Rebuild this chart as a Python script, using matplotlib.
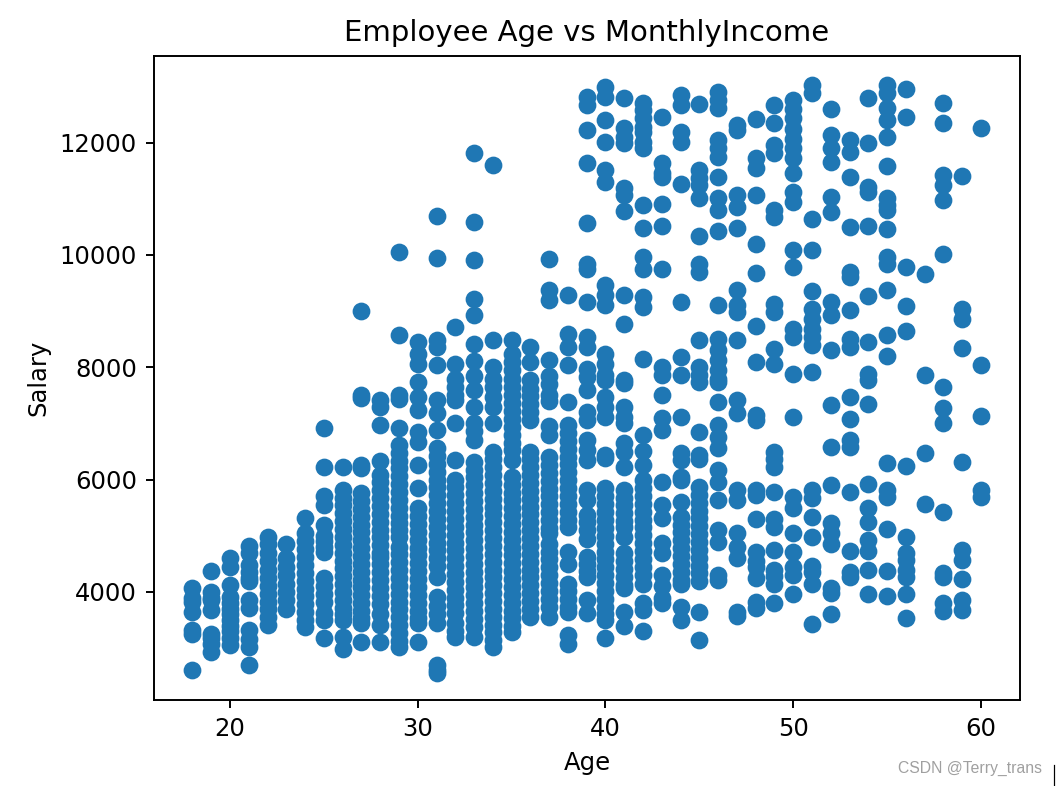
import matplotlib
matplotlib.use("Agg")
import matplotlib.pyplot as plt
from matplotlib.lines import Line2D

age_18 = [4063, 3900, 3825, 3650, 3320, 3260, 2608]
age_19 = [4377, 4003, 3900, 3855, 3675, 3250, 3180, 3080, 2935]
age_20 = [4597, 4450, 4122, 3915, 3800, 3700, 3600, 3500, 3400, 3300, 3180, 3053]
age_21 = [4823, 4686, 4480, 4350, 4250, 4200, 3855, 3706, 3320, 3170, 3025, 2708]
age_22 = [4983, 4850, 4700, 4550, 4400, 4250, 4100, 3960, 3830, 3700, 3558, 3410]
age_23 = [4853, 4600, 4450, 4300, 4150, 4000, 3850, 3700]
age_24 = [5310, 5043, 4900, 4760, 4620, 4480, 4340, 4200, 4060, 3920, 3780, 3650, 3510, 3380]
age_25 = [6926, 6219, 5708, 5548, 5190, 5000, 4900, 4800, 4715, 4240, 4100, 3970, 3825, 3617, 3500, 3172]
age_26 = [6230, 5815, 5680, 5540, 5400, 5260, 5120, 4980, 4840, 4700, 4560, 4420, 4280, 4140, 4000, 3860, 3720, 3600, 3500, 3200, 2990]
age_27 = [9000, 7500, 7450, 6260, 6200, 5755, 5620, 5480, 5340, 5200, 5060, 4920, 4780, 4640, 4500, 4360, 4220, 4080, 3940, 3800, 3660, 3540, 3440, 3112]
age_28 = [7420, 7300, 6970, 6340, 6080, 5950, 5810, 5670, 5530, 5390, 5250, 5110, 4970, 4830, 4686, 4630, 4490, 4350, 4210, 4070, 3930, 3790, 3600, 3410, 3112]
age_29 = [10056, 8571, 7508, 7440, 6914, 6617, 6480, 6340, 6200, 6060, 5920, 5780, 5640, 5500, 5360, 5220, 5100, 4983, 4805, 4670, 4530, 4390, 4250, 4110, 3970, 3830, 3690, 3550, 3410, 3270, 3130, 3023]
age_30 = [8452, 8244, 8066, 7740, 7478, 7240, 6854, 6676, 6260, 5845, 5490, 5350, 5210, 5070, 4930, 4790, 4650, 4510, 4370, 4230, 4090, 3950, 3810, 3670, 3530, 3440, 3112]
age_31 = [10697, 9937, 8482, 8363, 8036, 7418, 7181, 6884, 6560, 6420, 6280, 6140, 6000, 5860, 5720, 5580, 5440, 5300, 5160, 5020, 4880, 4740, 4600, 4460, 4270, 3914, 3750, 3600, 3440, 2700, 2610, 2550]
age_32 = [8720, 8066, 7800, 7656, 7500, 7418, 7003, 6350, 6000, 5860, 5720, 5580, 5440, 5300, 5160, 5020, 4880, 4740, 4600, 4460, 4320, 4180, 4040, 3900, 3760, 3617, 3440, 3300, 3200]
age_33 = [11820, 10590, 9907, 9224, 8939, 8422, 8108, 7850, 7600, 7300, 7003, 6870, 6700, 6320, 6180, 6040, 5900, 5760, 5620, 5480, 5340, 5200, 5060, 4920, 4780, 4640, 4500, 4360, 4220, 4080, 3940, 3800, 3660, 3520, 3380, 3200]
age_34 = [11600, 8482, 8000, 7800, 7650, 7478, 7300, 7003, 6498, 6360, 6220, 6080, 5940, 5800, 5660, 5520, 5380, 5240, 5100, 4960, 4820, 4680, 4540, 4400, 4260, 4120, 3980, 3840, 3700, 3560, 3420, 3280, 3140, 3023]
age_35 = [8482, 8244, 8100, 7950, 7800, 7650, 7500, 7360, 7220, 7080, 6940, 6800, 6660, 6520, 6350, 6050, 5910, 5770, 5630, 5490, 5350, 5210, 5070, 4930, 4790, 4650, 4510, 4370, 4230, 4090, 3950, 3810, 3670, 3530, 3390, 3280]
age_36 = [8363, 8096, 7770, 7620, 7480, 7340, 7200, 7060, 6500, 6360, 6220, 6080, 5940, 5800, 5660, 5520, 5380, 5240, 5100, 4960, 4820, 4680, 4540, 4400, 4260, 4120, 3980, 3840, 3700, 3560]
age_37 = [9919, 9373, 9195, 8125, 7850, 7700, 7500, 7400, 6950, 6800, 6400, 6260, 6120, 5980, 5840, 5700, 5560, 5420, 5280, 5140, 5050, 4860, 4720, 4580, 4440, 4300, 4160, 4020, 3880, 3740, 3550]
age_38 = [9284, 8600, 8363, 8036, 7390, 6970, 6830, 6690, 6550, 6410, 6270, 6130, 5990, 5850, 5710, 5570, 5430, 5290, 5150, 4720, 4500, 4150, 4010, 3870, 3730, 3640, 3230, 3080]
age_39 = [12817, 12668, 12223, 11630, 10560, 9847, 9757, 9165, 8541, 8363, 7975, 7827, 7597, 7211, 7062, 6706, 6528, 6349, 5815, 5637, 5369, 5250, 5100, 4950, 4627, 4500, 4380, 4270, 3855, 3617]
age_40 = [12995, 12817, 12401, 12015, 11510, 11302, 9460, 9282, 9104, 8243, 8065, 7857, 7775, 7478, 7300, 7122, 6430, 6380, 5845, 5700, 5560, 5420, 5280, 5140, 5000, 4860, 4720, 4580, 4440, 4300, 4160, 4020, 3880, 3740, 3600, 3500, 3172]
age_41 = [12799, 12252, 12104, 11985, 11183, 11064, 10785, 9282, 8777, 7768, 7716, 7300, 7122, 7003, 6646, 6498, 6219, 5815, 5680, 5540, 5400, 5260, 5160, 4983, 4686, 4550, 4410, 4270, 4130, 4063, 3647, 3391]
age_42 = [12698, 12579, 12430, 12282, 12193, 12015, 11896, 10886, 10482, 9965, 9757, 9253, 9074, 8154, 6795, 6516, 6260, 5993, 5850, 5710, 5570, 5430, 5290, 5150, 5010, 4870, 4730, 4590, 4450, 4310, 4150, 3795, 3677, 3308]
age_43 = [12460, 11629, 11450, 11391, 10898, 10518, 9758, 8005, 7857, 7508, 7092, 6884, 5963, 5548, 5310, 4864, 4686, 4300, 4100, 3900, 3800]
age_44 = [12846, 12668, 12193, 12015, 11254, 9163, 8183, 7857, 7122, 6468, 6349, 6053, 5993, 5607, 5340, 5200, 5060, 4920, 4780, 4640, 4500, 4360, 4220, 4150, 3736, 3500]
age_45 = [12686, 11510, 11361, 11243, 11005, 10334, 9847, 9698, 8480, 8005, 7857, 7745, 6854, 6430, 6360, 5875, 5730, 5590, 5450, 5310, 5170, 5030, 4890, 4750, 4610, 4470, 4330, 4190, 3647, 3142]
age_46 = [12906, 12757, 12609, 12044, 11896, 11748, 11379, 11005, 10797, 10429, 9104, 8510, 8302, 8124, 7946, 7797, 7745, 7389, 6973, 6765, 6557, 6170, 5965, 5640, 5100, 4890, 4300, 4210]
age_47 = [12312, 12223, 11064, 10856, 10482, 9371, 9104, 8985, 8480, 7419, 7181, 5815, 5637, 5043, 4805, 4597, 3647, 3580]
age_48 = [12413, 11718, 11540, 11064, 10191, 9680, 8736, 8094, 7151, 7062, 5815, 5726, 5292, 4716, 4550, 4449, 4241, 3825, 3706]
age_49 = [12668, 12341, 11955, 11807, 10797, 10678, 9134, 8985, 8332, 8065, 6498, 6360, 6230, 5785, 5292, 5160, 4746, 4390, 4290, 4150, 3795]
age_50 = [12757, 12590, 12430, 12250, 12070, 11900, 11720, 11450, 11120, 10950, 10084, 9787, 8689, 8540, 7880, 7110, 5696, 5488, 5043, 4716, 4449, 4300, 3956]
age_51 = [13025, 12876, 10648, 10096, 9360, 9045, 8866, 8689, 8540, 8392, 7916, 5815, 5666, 5340, 4971, 4460, 4350, 4150, 3421]
age_52 = [12591, 12134, 11896, 11658, 11034, 10767, 9163, 8926, 8314, 7324, 6587, 5898, 5221, 5043, 4853, 4063, 3973, 3605]
age_53 = [12044, 11837, 11379, 10500, 9698, 9609, 9015, 8510, 8362, 7478, 7074, 6706, 6587, 5773, 4734, 4360, 4270]
age_54 = [12799, 11985, 11213, 11124, 10512, 9264, 8451, 7886, 7768, 7347, 5922, 5488, 5250, 4924, 4734, 4390, 3956]
age_55 = [13025, 12876, 12609, 12401, 12104, 11581, 11005, 10886, 10797, 10459, 9965, 9847, 9371, 8570, 8201, 6302, 5815, 5696, 5120, 4371, 3932]
age_56 = [12953, 12448, 9787, 9086, 8641, 6242, 4983, 4686, 4567, 4400, 4270, 3962, 3534]
age_57 = [9656, 7857, 6480, 5560]
age_58 = [12698, 12341, 11421, 11243, 10975, 10025, 7656, 7282, 7003, 5429, 4330, 4270, 3795, 3665]
age_59 = [11403, 9045, 8866, 8350, 6320, 4746, 4567, 4229, 3855, 3676]
age_60 = [12264, 8035, 7139, 5815, 5696]

ages = list(range(18, 61))
incomes = [age_18, age_19, age_20, age_21, age_22, age_23, age_24, age_25, age_26, age_27,
           age_28, age_29, age_30, age_31, age_32, age_33, age_34, age_35, age_36, age_37,
           age_38, age_39, age_40, age_41, age_42, age_43, age_44, age_45, age_46, age_47,
           age_48, age_49, age_50, age_51, age_52, age_53, age_54, age_55, age_56, age_57,
           age_58, age_59, age_60]

x = [a for a, vals in zip(ages, incomes) for _ in vals]
y = [v for vals in incomes for v in vals]

W, H, DPI = 1057, 786, 174.5
fig = plt.figure(figsize=(W / DPI, H / DPI), dpi=DPI)
ax = fig.add_axes([154 / W, 1 - 700 / H, 866 / W, 644 / H])
ax.scatter(x, y, s=40)
ax.set_xlim(15.95, 62.08)
ax.set_ylim(2077, 13541)
ax.set_xticks([20, 30, 40, 50, 60])
ax.set_yticks([4000, 6000, 8000, 10000, 12000])
ax.set_title("Employee Age vs MonthlyIncome")
ax.set_xlabel("Age")
ax.set_ylabel("Salary")

fig.text(898 / W, 1 - 768 / H, "CSDN @Terry_trans", color="#a0a0a0", fontsize=6.5,
         family="Liberation Sans", va="center", ha="left")
fig.add_artist(Line2D([1054 / W, 1054 / W], [1 - 765 / H, 1 - 785 / H], color="black", lw=0.5))

fig.savefig("out.png", dpi=DPI)
